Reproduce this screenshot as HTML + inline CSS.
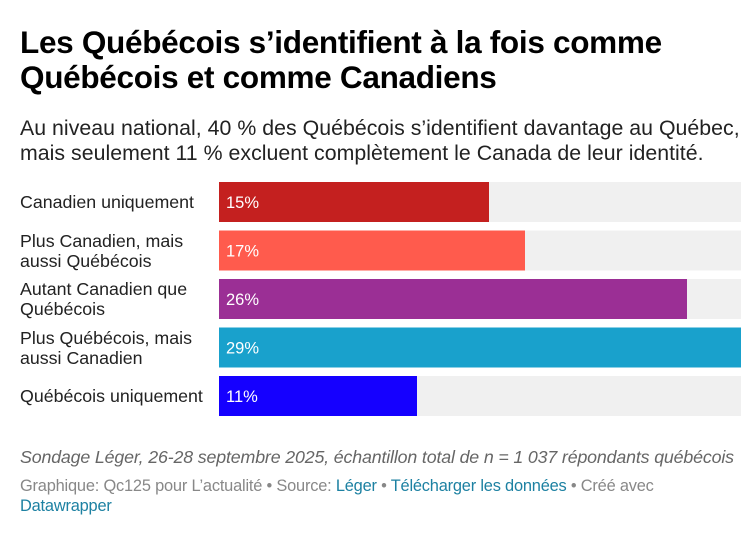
<!DOCTYPE html>
<html><head><meta charset="utf-8">
<style>
body{margin:0;width:755px;height:551px;background:#fff;font-family:"Liberation Sans",sans-serif;overflow:hidden;position:relative}
.t{position:absolute;left:20px;top:25px;font-size:31.5px;font-weight:bold;line-height:35px;color:#000;letter-spacing:-0.3px}
.s{position:absolute;left:20px;top:116px;font-size:21.3px;line-height:25px;color:#222;letter-spacing:0.03px;white-space:nowrap}
.lab{position:absolute;left:20px;font-size:17.8px;line-height:20px;color:#222;letter-spacing:0px}
.n{position:absolute;left:20px;top:447px;font-size:17.8px;font-style:italic;color:#666;letter-spacing:-0.15px;white-space:nowrap}
.f{position:absolute;left:20px;top:476px;font-size:16.4px;line-height:20px;color:#888;letter-spacing:-0.2px}
.f a{color:#1d81a2;text-decoration:none}
</style></head><body>
<div class="t">Les Québécois s’identifient à la fois comme<br>Québécois et comme Canadiens</div>
<div class="s">Au niveau national, 40 % des Québécois s’identifient davantage au Québec,<br>mais seulement 11 % excluent complètement le Canada de leur identité.</div>
<svg id="c" width="755" height="551" style="position:absolute;left:0;top:0"></svg>
<div id="labs"></div>
<div class="n">Sondage Léger, 26-28 septembre 2025, échantillon total de n = 1 037 répondants québécois</div>
<div class="f">Graphique: Qc125 pour L’actualité • Source: <a>Léger</a> • <a>Télécharger les données</a> • Créé avec<br><a>Datawrapper</a></div>
<script>
const categories=["Canadien uniquement","Plus Canadien, mais aussi Québécois","Autant Canadien que Québécois","Plus Québécois, mais aussi Canadien","Québécois uniquement"];
const labelLines=[["Canadien uniquement"],["Plus Canadien, mais","aussi Québécois"],["Autant Canadien que","Québécois"],["Plus Québécois, mais","aussi Canadien"],["Québécois uniquement"]];
const values=[15,17,26,29,11];
const colors=["#c4201f","#ff5b4d","#9b2f95","#19a1cc","#1500ff"];
const x0=219,x1=741,maxV=29;
const xs=v=>x0+(x1-x0)*v/maxV;
const yTop=i=>182+i*48.5;
const svg=document.getElementById('c');const NS="http://www.w3.org/2000/svg";
const labs=document.getElementById('labs');
values.forEach((v,i)=>{
 const y=yTop(i);
 const bg=document.createElementNS(NS,'rect');
 
 
 bg.setAttribute('x',x0);bg.setAttribute('y',y);bg.setAttribute('width',x1-x0);bg.setAttribute('height',40);bg.setAttribute('fill','#f0f0f0');svg.appendChild(bg);
 const r=document.createElementNS(NS,'rect');
 
 
 r.setAttribute('x',x0);r.setAttribute('y',y);r.setAttribute('width',xs(v)-x0);r.setAttribute('height',40);r.setAttribute('fill',colors[i]);svg.appendChild(r);
 const t=document.createElementNS(NS,'text');
 
 
 t.setAttribute('x',x0+7);t.setAttribute('y',y+26);t.setAttribute('fill','#fff');t.setAttribute('font-size','16.5');t.setAttribute('font-family','Liberation Sans, sans-serif');t.textContent=v+'%';svg.appendChild(t);
 const d=document.createElement('div');
 
 
 d.className='lab';
 const ln=labelLines[i];
 d.style.top=(ln.length>1?y+0:y+10)+'px';
 d.innerHTML=ln.join('<br>');labs.appendChild(d);
});
</script>
</body></html>
